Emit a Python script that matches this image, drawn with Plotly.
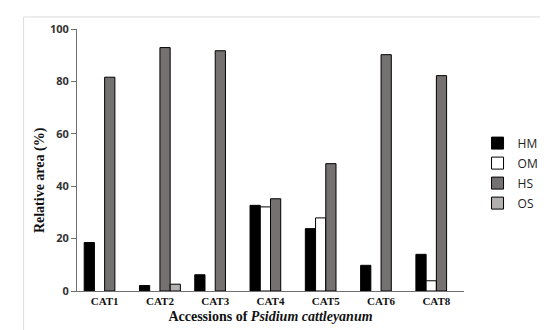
import plotly.graph_objects as go

categories = ["CAT1", "CAT2", "CAT3", "CAT4", "CAT5", "CAT6", "CAT8"]
hm = [18.5, 2.1, 6.2, 32.7, 23.8, 9.8, 14.0]
om = [None, None, None, 32.1, 27.9, None, 3.9]
hs = [81.6, 92.9, 91.7, 35.2, 48.6, 90.2, 82.2]
os_ = [None, 2.6, None, None, None, None, None]
series_names = ["HM", "OM", "HS", "OS"]
series_colors = ["#000000", "#ffffff", "#767171", "#b4b0b0"]
y_ticks = [0, 20, 40, 60, 80, 100]

fig = go.Figure()
for name, vals, col in zip(series_names, [hm, om, hs, os_], series_colors):
    fig.add_trace(go.Bar(
        x=categories, y=vals, name=name, legendgroup=name,
        marker=dict(color=col, line=dict(color="#000000", width=1)),
    ))

serif = "Liberation Serif"
sans = "Open Sans"

fig.update_layout(
    width=548, height=330,
    margin=dict(l=69, r=45, t=21, b=46.5),
    paper_bgcolor="white", plot_bgcolor="white",
    barmode="group", bargap=0.26, bargroupgap=0,
    showlegend=True,
    legend=dict(x=1.035, xanchor="left", y=0.45, yanchor="middle",
                font=dict(family=sans, size=12, color="#222222"),
                itemwidth=30, tracegroupgap=1, bgcolor="rgba(0,0,0,0)"),
    xaxis=dict(
        showline=True, linecolor="#707070", linewidth=1,
        ticks="", showgrid=False,
        tickfont=dict(family=serif, size=11, color="#111111", weight="bold"),
        title=dict(text="<b>Accessions of <i>Psidium cattleyanum</i></b>",
                   font=dict(family=serif, size=14, color="#111111"), standoff=4),
    ),
    yaxis=dict(
        range=[0, 100], tickvals=y_ticks,
        showline=True, linecolor="#707070", linewidth=1,
        ticks="outside", ticklen=5, tickcolor="#707070",
        showgrid=False, zeroline=False,
        tickfont=dict(family=sans, size=11, color="#333333", weight="bold"),
    ),
    annotations=[dict(
        text="<b>Relative area (%)</b>", textangle=-90,
        xref="paper", yref="paper", x=-0.097, y=0.425,
        xanchor="center", yanchor="middle", showarrow=False,
        font=dict(family=serif, size=14, color="#111111"),
    )],
    shapes=[dict(type="rect", xref="paper", yref="paper",
                 x0=-0.138, x1=1.2, y0=-0.25, y1=1.046,
                 line=dict(color="#dcdce0", width=1), layer="below")],
)

fig.write_html("out.html")
